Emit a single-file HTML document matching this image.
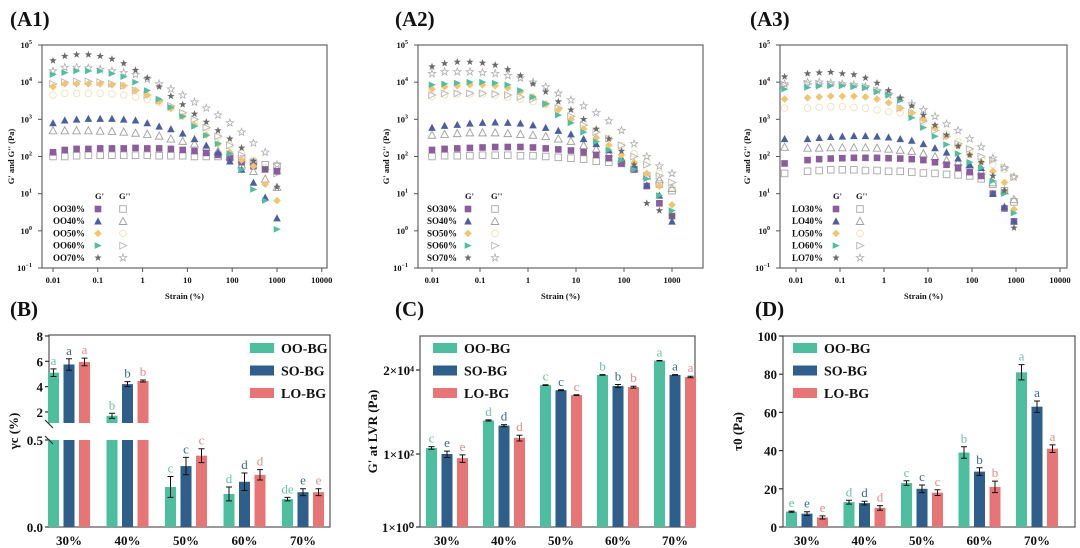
<!DOCTYPE html>
<html><head><meta charset="utf-8">
<style>
html,body{margin:0;padding:0;background:#fff;}
svg{display:block;font-family:"Liberation Serif",serif;}
</style></head>
<body>
<svg id="fig" width="1080" height="548" viewBox="0 0 1080 548" xmlns="http://www.w3.org/2000/svg"></svg>
<script>
// ---------- DATA ----------
const strain = [0.01,0.0183,0.0336,0.0616,0.113,0.207,0.379,0.695,1.27,2.34,4.28,7.85,14.4,26.4,48.3,88.6,162,298,546,1000];
const strainLO = [0.0055,0.0183,0.0336,0.0616,0.113,0.207,0.379,0.695,1.27,2.34,4.28,7.85,14.4,26.4,48.3,88.6,162,298,546,900];
const concLabels = ["30%","40%","50%","60%","70%"];
// A1 OO
const oo30G1 = [130,150,160,160,165,165,165,170,165,165,160,150,140,125,110,90,70,55,45,40];
const oo30G2 = [100,100,105,108,108,108,108,108,108,105,105,105,100,100,100,95,85,70,60,55];
const oo40G1 = [800,950,1000,1050,1050,1050,1000,950,800,650,550,420,300,200,130,75,45,20,8,2.2];
const oo40G2 = [500,500,500,500,490,480,460,430,400,360,300,260,220,180,140,100,60,40,25,15];
const oo50G1 = [7500,9000,9000,9000,9000,8500,8000,6000,4500,3000,2000,1200,700,380,220,130,80,55,18,6.5];
const oo50G2 = [4500,5000,5000,5000,5000,4800,4500,4000,3500,2800,2000,1400,900,600,350,200,120,80,50,40];
const oo60G1 = [16000,18000,20000,20000,20000,17000,14000,10000,6000,3500,2100,1200,650,370,220,120,45,13,6.5,1.1];
const oo60G2 = [9000,10000,10500,10500,10000,9000,8000,6000,4500,3200,2300,1500,1000,600,350,200,110,70,45,35];
const oo70G1 = [38000,50000,55000,55000,50000,42000,32000,21000,13000,7500,4200,2500,1400,850,500,300,170,75,45,15];
const oo70G2 = [20000,25000,25000,24000,22000,20000,18000,16000,12000,9000,6500,4500,2900,2000,1300,800,450,230,130,60];
// A2 SO
const so30G1 = [150,160,165,170,175,180,180,180,175,165,155,145,130,110,90,65,45,16,5.5,2.5];
const so30G2 = [100,105,105,105,108,108,108,105,105,100,95,90,85,75,70,65,45,30,18,12];
const so40G1 = [600,680,720,780,820,840,820,780,700,600,500,400,300,220,150,90,50,17,9,1.8];
const so40G2 = [380,400,420,440,440,440,420,400,380,350,300,260,200,160,120,80,50,30,24,14];
const so50G1 = [6500,7500,8000,8500,8500,8000,7000,5500,4000,2600,1800,1000,550,320,200,110,70,35,16,5];
const so50G2 = [4200,4500,4800,4800,4800,4500,4000,3500,3000,2500,2000,1400,800,500,300,200,120,70,35,15];
const so60G1 = [8500,9000,9500,10000,10000,9500,8500,6000,4000,2600,1300,800,450,250,150,80,45,25,9,3.5];
const so60G2 = [4500,5000,5000,5000,5000,4800,4500,4000,3500,2600,2000,1200,700,450,300,200,100,60,30,20];
const so70G1 = [26000,32000,35000,35000,33000,29000,22000,15000,9000,5500,3000,1800,1000,550,300,140,60,5.5,3.5,2.5];
const so70G2 = [17000,19000,19000,19000,18000,17000,15000,13000,10000,7500,5000,3300,2300,1500,900,500,220,100,55,35];
// A3 LO
const lo30G1 = [65,80,85,88,90,92,92,92,90,88,85,80,70,60,50,38,30,10,4,1.8];
const lo30G2 = [35,40,42,44,44,44,42,42,40,40,38,36,35,33,32,30,25,18,12,6];
const lo40G1 = [300,300,320,340,350,360,360,350,330,300,270,220,170,130,90,60,50,10,4.5,1.8];
const lo40G2 = [180,170,170,175,175,175,175,170,160,150,140,120,100,80,70,60,40,20,12,7];
const lo50G1 = [3500,3800,4000,4200,4200,4200,4000,3500,2800,2000,1500,1000,600,350,190,110,70,40,20,3.8];
const lo50G2 = [2000,2000,2100,2200,2200,2100,2000,1800,1600,1500,1300,900,600,400,250,150,90,60,45,28];
const lo60G1 = [6500,7200,7800,8000,8000,7500,7000,5500,4500,3200,1100,600,350,210,120,70,50,22,10,3];
const lo60G2 = [8500,9000,9000,8800,8500,8000,7500,6000,5000,2000,1500,900,500,350,220,160,100,80,50,28];
const lo70G1 = [14000,17000,18000,18500,17000,16000,13000,9500,6000,3800,2300,1300,700,380,190,110,70,30,12,1.2];
const lo70G2 = [9000,10000,10000,9500,9000,8500,7500,6000,4500,3600,2600,1800,1200,750,500,300,180,90,50,28];
// B: critical strain
const bOO = [5.1,1.7,0.23,0.19,0.16];
const bSO = [5.75,4.2,0.35,0.26,0.2];
const bLO = [5.95,4.45,0.41,0.3,0.2];
const bOOerr = [0.3,0.2,0.06,0.04,0.01];
const bSOerr = [0.45,0.2,0.05,0.05,0.02];
const bLOerr = [0.3,0.08,0.04,0.03,0.02];
const bOOlet = ["a","b","c","d","de"];
const bSOlet = ["a","b","c","d","e"];
const bLOlet = ["a","b","c","d","e"];
// C: G' at LVR
const cOO = [147,830,7700,14700,36000];
const cSO = [100,600,5600,7300,14700];
const cLO = [77,277,4100,6800,12900];
const cOOerr = [12,30,200,300,400];
const cSOerr = [20,40,150,700,300];
const cLOerr = [18,50,100,400,600];
const cOOlet = ["c","d","c","b","a"];
const cSOlet = ["e","d","c","b","a"];
const cLOlet = ["e","d","c","b","a"];
const cTickVals = [1,100,20000];
const cTickLabels = ["1×10⁰","1×10²","2×10⁴"];
// D: yield stress
const dOO = [8,13,23,39,81];
const dSO = [7,12.5,20,29,63];
const dLO = [5,10,18,21,41];
const dOOerr = [0.3,1,1.2,3,4];
const dSOerr = [1,1,2,2,3];
const dLOerr = [0.8,1.2,1.5,3,2];
const dOOlet = ["e","d","c","b","a"];
const dSOlet = ["e","d","c","b","a"];
const dLOlet = ["e","d","c","b","a"];
const dTicks = [0,20,40,60,80,100];

// ---------- HELPERS ----------
const NS = "http://www.w3.org/2000/svg";
const svg = document.getElementById("fig");
function mk(tag, attrs, parent){
  const e = document.createElementNS(NS, tag);
  for (const k in attrs) e.setAttribute(k, attrs[k]);
  (parent||svg).appendChild(e);
  return e;
}
function txt(s, x, y, size, opts, parent){
  const t = mk("text", Object.assign({x:x, y:y, "font-size":size, "font-weight":"bold", fill:"#111"}, opts||{}), parent);
  t.textContent = s;
  return t;
}
const TEAL="#4dbf9f", BLUE="#2e5e8a", RED="#e87575";
const TEAL_L="#6cc4a8", BLUE_L="#3d6a93", RED_L="#e98a8a";

function marker(shape, x, y, filled, color, parent){
  const s = 3.3;
  const fill = filled ? color : "none";
  const stroke = filled ? "none" : color;
  let e;
  if (shape==="sq") e = mk("rect",{x:x-s,y:y-s,width:2*s,height:2*s,fill:fill,stroke:stroke,"stroke-width":0.9},parent);
  else if (shape==="tri") e = mk("polygon",{points:`${x},${y-s-0.5} ${x-s-0.5},${y+s} ${x+s+0.5},${y+s}`,fill:fill,stroke:stroke,"stroke-width":0.9},parent);
  else if (shape==="dia") e = filled ? mk("polygon",{points:`${x},${y-s-0.5} ${x+s+0.5},${y} ${x},${y+s+0.5} ${x-s-0.5},${y}`,fill:fill},parent)
                                     : mk("circle",{cx:x,cy:y,r:s,fill:"none",stroke:stroke,"stroke-width":0.9},parent);
  else if (shape==="rt") e = mk("polygon",{points:`${x-s},${y-s} ${x+s+0.5},${y} ${x-s},${y+s}`,fill:fill,stroke:stroke,"stroke-width":0.9},parent);
  else {
    let p=[];
    for(let i=0;i<10;i++){const r=i%2?1.6:s+0.6;const a=-Math.PI/2+i*Math.PI/5;p.push((x+r*Math.cos(a)).toFixed(1)+","+(y+r*Math.sin(a)).toFixed(1));}
    e = mk("polygon",{points:p.join(" "),fill:fill,stroke:stroke,"stroke-width":0.8},parent);
  }
  return e;
}

// ---------- PANEL LABELS ----------
const panelLabels = [["(A1)",10,26],["(A2)",395,26],["(A3)",750,26],["(B)",10,316],["(C)",395,316],["(D)",755,316]];
panelLabels.forEach(p=>{
  const t = txt(p[0], p[1], p[2], 21, {});
  
  
});

// ---------- SCATTER PANELS ----------
const shapes = ["sq","tri","dia","rt","star"];
const fillCols = ["#8d5c9e","#4a5fa0","#f2c46e","#4fbf9f","#6a6a6a"];
const openCols = ["#a8a8a8","#a0a0a0","#efe2b8","#b8b8b8","#b0b0b0"];

function scatterPanel(cfg){
  const g = mk("g",{});
  
  
  const [L,T,R,B] = cfg.box;
  const xAt = v => cfg.x0 + (Math.log10(v)+2)*cfg.dec;
  const yAt = v => T + (5-Math.log10(v))*((B-T)/6);
  const frame = mk("rect",{x:L,y:T,width:R-L,height:B-T,fill:"none",stroke:"#666","stroke-width":1.2},g);
  
  
  // y ticks
  for(let e=-1;e<=5;e++){
    const y = yAt(Math.pow(10,e));
    const tk = mk("line",{x1:L-4,y1:y,x2:L,y2:y,stroke:"#555"},g);
    
    
    const t = txt("10", L-10, y+3, 8.5, {"text-anchor":"end"}, g);
    const sp = mk("tspan",{dy:-4,"font-size":6},t); sp.textContent = String(e).replace("-","−");
    
    
  }
  // x ticks
  cfg.xticks.forEach((lab,i)=>{
    const x = cfg.x0 + i*cfg.dec;
    const tk = mk("line",{x1:x,y1:B,x2:x,y2:B+4,stroke:"#555"},g);
    
    
    const t = txt(lab, x, B+15, 8.5, {"text-anchor":"middle"}, g);
    
    
  });
  const xt = txt("Strain (%)", (L+R)/2, 299, 8.5, {"text-anchor":"middle"}, g);
  
  
  const yt = txt("G' and G'' (Pa)", 0, 0, 8.5, {"text-anchor":"middle",transform:`translate(${cfg.ytx},${(T+B)/2}) rotate(-90)`}, g);
  
  
  // series (G'' first, then G')
  cfg.series.forEach((s,k)=>{
    const sg2 = mk("g",{},g);
    
    
    s[1].forEach((v,i)=>{ if(v!=null){ const m = marker(shapes[k], xAt(cfg.x[i]), yAt(v), false, openCols[k], sg2);
      
       }});
  });
  cfg.series.forEach((s,k)=>{
    const sg1 = mk("g",{},g);
    
    
    s[0].forEach((v,i)=>{ if(v!=null){ const m = marker(shapes[k], xAt(cfg.x[i]), yAt(v), true, fillCols[k], sg1);
      
       }});
  });
  // legend
  const lg = mk("g",{},g);
  
  
  const h1 = txt("G'", cfg.lg[1]-3, 199, 8.5, {}, lg);
  
  
  const h2 = txt("G''", cfg.lg[2]-4, 199, 8.5, {}, lg);
  
  
  concLabels.forEach((c,k)=>{
    const y = 209 + k*12.2;
    const t = txt(cfg.prefix + c, cfg.lg[0], y+3, 9, {}, lg);
    
    
    marker(shapes[k], cfg.lg[1], y, true, fillCols[k], lg);
    marker(shapes[k], cfg.lg[2], y, false, openCols[k], lg);
  });
}

scatterPanel({name:"chart-a1", prefix:"OO", box:[42,45,327,268], x0:53, dec:44.8, x:strain, ytx:14,
  xticks:["0.01","0.1","1","10","100","1000","10000"], lg:[53,98,123],
  series:[[oo30G1,oo30G2],[oo40G1,oo40G2],[oo50G1,oo50G2],[oo60G1,oo60G2],[oo70G1,oo70G2]]});
scatterPanel({name:"chart-a2", prefix:"SO", box:[418,45,703,268], x0:432, dec:48, x:strain, ytx:389,
  xticks:["0.01","0.1","1","10","100","1000"], lg:[427,468,495],
  series:[[so30G1,so30G2],[so40G1,so40G2],[so50G1,so50G2],[so60G1,so60G2],[so70G1,so70G2]]});
scatterPanel({name:"chart-a3", prefix:"LO", box:[780,45,1067,268], x0:796, dec:44, x:strainLO, ytx:750,
  xticks:["0.01","0.1","1","10","100","1000","10000"], lg:[792,836,860],
  series:[[lo30G1,lo30G2],[lo40G1,lo40G2],[lo50G1,lo50G2],[lo60G1,lo60G2],[lo70G1,lo70G2]]});

// ---------- BAR PANELS ----------
function legendBars(g, x, names){
  const lg = mk("g",{},g);
  
  
  [[TEAL,"OO-BG"],[BLUE,"SO-BG"],[RED,"LO-BG"]].forEach((c,k)=>{
    const y = 348 + k*22.5;
    const r = mk("rect",{x:x,y:y-5,width:24,height:10,fill:c[0]},lg);
    
    
    const t = txt(c[1], x+31, y+5, 14, {}, lg);
    
    
  });
}
function barPanel(cfg){
  const g = mk("g",{});
  
  
  const [L,T,R,B] = cfg.box;
  const frame = mk("rect",{x:L,y:T,width:R-L,height:B-T,fill:"none",stroke:"#555","stroke-width":1.2},g);
  
  
  cfg.yticks.forEach(tk=>{
    const y = cfg.yAt(tk[0]);
    const l = mk("line",{x1:L-4,y1:y,x2:L,y2:y,stroke:"#333","stroke-width":1.2},g);
    
    
    const t = txt(tk[1], L-6, y+5, 13, {"text-anchor":"end"}, g);
    
    
  });
  const yt = txt(cfg.ytitle, 0, 0, 13, {"text-anchor":"middle",transform:`translate(${cfg.ytx},${(T+B)/2}) rotate(-90)`}, g);
  
  
  const sers = [[cfg.oo,cfg.ooE,cfg.ooL,TEAL,TEAL_L,"oo"],[cfg.so,cfg.soE,cfg.soL,BLUE,BLUE_L,"so"],[cfg.lo,cfg.loE,cfg.loL,RED,RED_L,"lo"]];
  concLabels.forEach((c,i)=>{
    const cx = cfg.cx(i);
    const t = txt(c, cx, 545, 13, {"text-anchor":"middle"}, g);
    
    
    sers.forEach((s,k)=>{
      const x = cx + (k-1)*15.5;
      const v = s[0][i], e = s[1][i];
      const segs = cfg.segs(v);
      segs.forEach(sg=>{
        const r = mk("rect",{x:x-5.5,y:sg[0],width:11,height:sg[1]-sg[0],fill:s[3]},g);
        
        
      });
      const yt1 = cfg.yAt(v+e), yb1 = cfg.yAt(Math.max(v-e, cfg.minv));
      const eb = mk("path",{d:`M${x},${yt1}V${yb1}M${x-3},${yt1}H${x+3}M${x-3},${yb1}H${x+3}`,stroke:"#111","stroke-width":1,fill:"none"},g);
      
      
      const lt = txt(s[2][i], x, yt1-4, 13, {"text-anchor":"middle","font-weight":"normal",fill:s[4]}, g);
      
      
    });
  });
  if (cfg.extra) cfg.extra(g);
  legendBars(g, cfg.lgx);
}

// B: broken axis
const yB = v => v >= 1.0 ? 412 - (v-2)*12.67 : 527 - v*174;
barPanel({name:"chart-b", box:[49,335,330,527], yAt:yB, minv:0, cx:i=>69+i*58.5,
  yticks:[[0,"0.0"],[0.5,"0.5"],[2,"2"],[4,"4"],[6,"6"],[8,"8"]], ytitle:"γc (%)", ytx:18, lgx:250,
  oo:bOO,so:bSO,lo:bLO,ooE:bOOerr,soE:bSOerr,loE:bLOerr,ooL:bOOlet,soL:bSOlet,loL:bLOlet,
  segs:v=> v>=1.0 ? [[yB(v),423],[440,527]] : [[yB(v),527]],
  extra:g=>{
    const w = mk("rect",{x:45,y:424,width:8,height:15,fill:"#fff"},g);
    
    
    const br = mk("path",{d:"M45,420L53,428M45,436L53,444",stroke:"#333","stroke-width":1.2},g);
    
    
  }});
// C: log axis
const yC = v => 527 - Math.log10(v)*36.5;
barPanel({name:"chart-c", box:[420,336,695,527], yAt:yC, minv:1, cx:i=>447+i*57,
  yticks:cTickVals.map((v,i)=>[v,cTickLabels[i]]), ytitle:"G' at LVR (Pa)", ytx:377, lgx:433,
  oo:cOO,so:cSO,lo:cLO,ooE:cOOerr,soE:cSOerr,loE:cLOerr,ooL:cOOlet,soL:cSOlet,loL:cLOlet,
  segs:v=>[[yC(v),527]]});
// D: linear
const yD = v => 527 - v*1.91;
barPanel({name:"chart-d", box:[783,336,1075,527], yAt:yD, minv:0, cx:i=>807+i*57.5,
  yticks:dTicks.map(v=>[v,String(v)]), ytitle:"τ0 (Pa)", ytx:742, lgx:793,
  oo:dOO,so:dSO,lo:dLO,ooE:dOOerr,soE:dSOerr,loE:dLOerr,ooL:dOOlet,soL:dSOlet,loL:dLOlet,
  segs:v=>[[yD(v),527]]});
</script>
</body></html>
